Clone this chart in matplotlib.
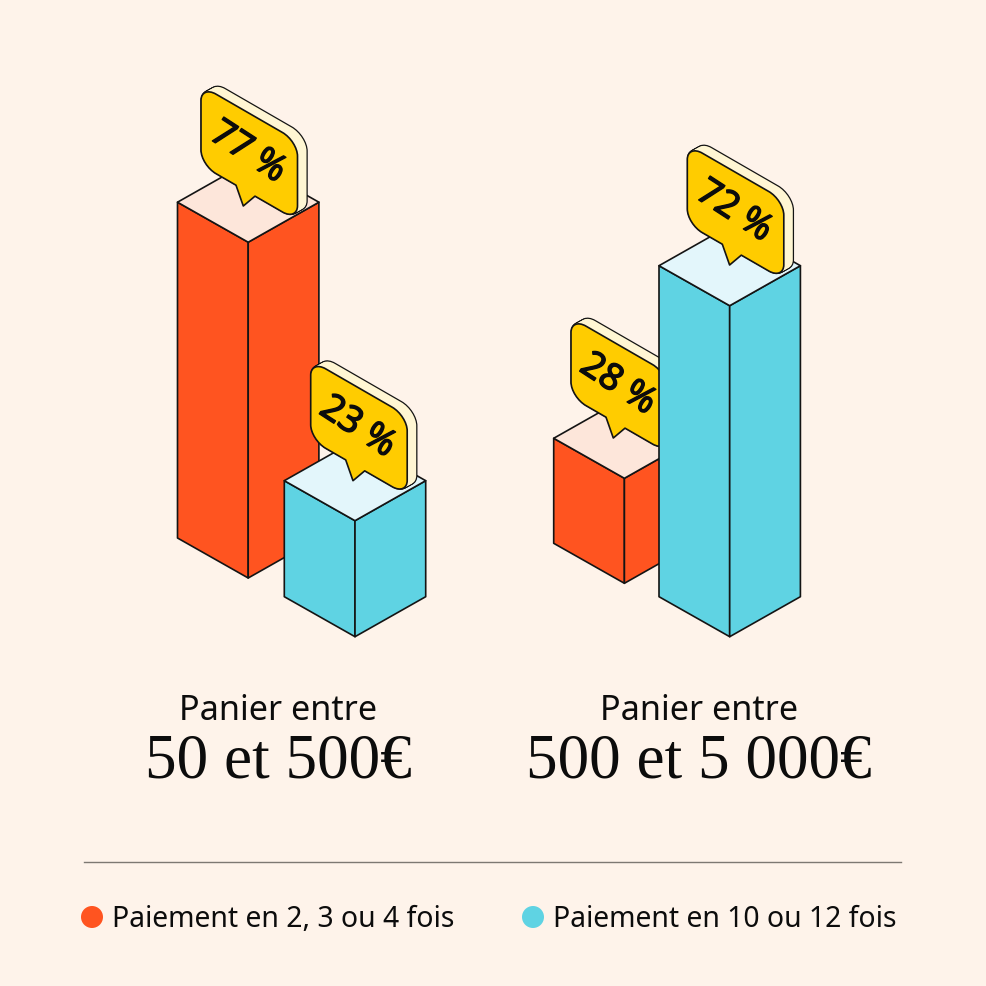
#!/usr/bin/env python
# -*- coding: utf-8 -*-
import matplotlib

matplotlib.use("Agg")
import matplotlib.patheffects as pe
import matplotlib.pyplot as plt
import numpy as np
from matplotlib.patches import Circle, PathPatch, Polygon
from matplotlib.path import Path

####################################################
# Data

group_top = ["Panier entre", "Panier entre"]
group_bottom = ["50 et 500€", "500 et 5 000€"]
series_names = ["Paiement en 2, 3 ou 4 fois", "Paiement en 10 ou 12 fois"]

# left group, right group
series_short = [77, 28]
series_long = [23, 72]

####################################################
# Look

BG = "#FEF3EA"
INK = "#141414"
ORANGE = "#FF5420"
ORANGE_TOP = "#FDE6DA"
CYAN = "#5FD3E3"
CYAN_TOP = "#E3F6FB"
YELLOW = "#FFCC00"
CREAM = "#FFF6D3"
SLOPE = 0.577

SANS = "Noto Sans"
SERIF = "Liberation Serif"

# The picture is not drawn to one scale, each group has its own (pixels per point, offset)
group_scale = [(4.07, 22.4), (5.136, -38.8)]

# Pixel layout, one row per group: (left corner x, front bottom y) for both bars
layout_short = [(177.5, 578.0), (553.7, 583.3)]
layout_long = [(284.3, 636.7), (659.0, 636.7)]
half_w = 70.7
rise = 40.0

# Bubble anchors (left x, top y of the skewed frame)
bubble_short = [(201.0, 85.5), (571.0, 317.5)]
bubble_long = [(310.7, 360.2), (687.3, 144.5)]
bubble_w = 96.5
bubble_h = 79.5
bubble_r = 15.0
bubble_depth = (9.0, -5.0)

label_x = [278.5, 699.0]
legend_x = [92.0, 533.0]


def skew(points, x0, y0):
    # local (u, v) of the bubble face to picture pixels
    points = np.asarray(points, dtype=float)
    return np.column_stack([x0 + points[:, 0], y0 + SLOPE * points[:, 0] + points[:, 1]])


def bubble_path(x0, y0, with_tail=True):
    w, h, r = bubble_w, bubble_h, bubble_r
    c = r * 0.45  # control point distance of the round corners
    verts = [(r, 0), (w - r, 0)]
    codes = [Path.MOVETO, Path.LINETO]

    def corner(p1, p2, p3):
        verts.extend([p1, p2, p3])
        codes.extend([Path.CURVE4] * 3)

    corner((w - c, 0), (w, c), (w, r))
    verts.append((w, h - r))
    codes.append(Path.LINETO)
    corner((w, h - c), (w - c, h), (w - r, h))
    if with_tail:
        verts.extend([(54, h), (42.3, h + 16.6), (35, h)])
        codes.extend([Path.LINETO] * 3)
    verts.append((r, h))
    codes.append(Path.LINETO)
    corner((c, h), (0, h - c), (0, h - r))
    verts.append((0, r))
    codes.append(Path.LINETO)
    corner((0, c), (c, 0), (r, 0))
    return Path(skew(verts, x0, y0), codes)


def draw_bar(ax, x, base, height, side, top):
    xm = x + half_w
    xr = x + 2 * half_w
    front_top = base - height
    lw = 1.2
    ax.add_patch(Polygon([(x, front_top - rise), (xm, front_top), (xm, base), (x, base - rise)],
                         fc=side, ec=INK, lw=lw, joinstyle="round"))
    ax.add_patch(Polygon([(xm, front_top), (xr, front_top - rise), (xr, base - rise), (xm, base)],
                         fc=side, ec=INK, lw=lw, joinstyle="round"))
    ax.add_patch(Polygon([(x, front_top - rise), (xm, front_top - 2 * rise), (xr, front_top - rise), (xm, front_top)],
                         fc=top, ec=INK, lw=lw, joinstyle="round"))


def draw_bubble(ax, x0, y0, value):
    steps = np.linspace(1, 0.1, 10)
    # silhouette of the extruded edge first, then its fill on top
    for t in steps:
        p = bubble_path(x0 + t * bubble_depth[0], y0 + t * bubble_depth[1], with_tail=False)
        ax.add_patch(PathPatch(p, fc=INK, ec=INK, lw=1.8))
    for t in steps:
        p = bubble_path(x0 + t * bubble_depth[0], y0 + t * bubble_depth[1], with_tail=False)
        ax.add_patch(PathPatch(p, fc=CREAM, ec="none"))
    ax.add_patch(PathPatch(bubble_path(x0, y0), fc=YELLOW, ec=INK, lw=1.2, joinstyle="round"))
    # no heavier cut of the font is available, thicken the strokes instead
    ax.text(x0 + 46.5, y0 + 67.5, "%d %%" % value, family=SANS, fontsize=26.5, color="#0c0c0c",
            rotation=-33, rotation_mode="anchor", ha="center", va="center",
            path_effects=[pe.withStroke(linewidth=1.0, foreground="#0c0c0c")])


####################################################
# Figure

fig = plt.figure(figsize=(9.86, 9.86), dpi=100, facecolor=BG)
ax = fig.add_axes([0, 0, 1, 1])
ax.set_xlim(0, 986)
ax.set_ylim(986, 0)
ax.axis("off")

for i in range(2):
    scale, offset = group_scale[i]

    x, base = layout_short[i]
    draw_bar(ax, x, base, series_short[i] * scale + offset, ORANGE, ORANGE_TOP)
    draw_bubble(ax, *bubble_short[i], series_short[i])

    x, base = layout_long[i]
    draw_bar(ax, x, base, series_long[i] * scale + offset, CYAN, CYAN_TOP)
    draw_bubble(ax, *bubble_long[i], series_long[i])

    ax.text(label_x[i], 719.5, group_top[i], family=SANS, fontsize=24.6, color="#0c0c0c", ha="center", va="baseline")
    ax.text(label_x[i], 778, group_bottom[i], family=SERIF, fontsize=45.5, color="#0c0c0c", ha="center", va="baseline")

ax.plot([84, 901], [862, 862], color="#7d7872", lw=1.0)

legend_colors = [ORANGE, CYAN]
for i in range(2):
    ax.add_patch(Circle((legend_x[i], 917), 11, fc=legend_colors[i], ec="none"))
    ax.text(legend_x[i] + 20, 927, series_names[i], family=SANS, fontsize=20.4, color="#0c0c0c", ha="left", va="baseline")

plt.savefig("out.png", dpi=100, facecolor=BG)
plt.close("all")
